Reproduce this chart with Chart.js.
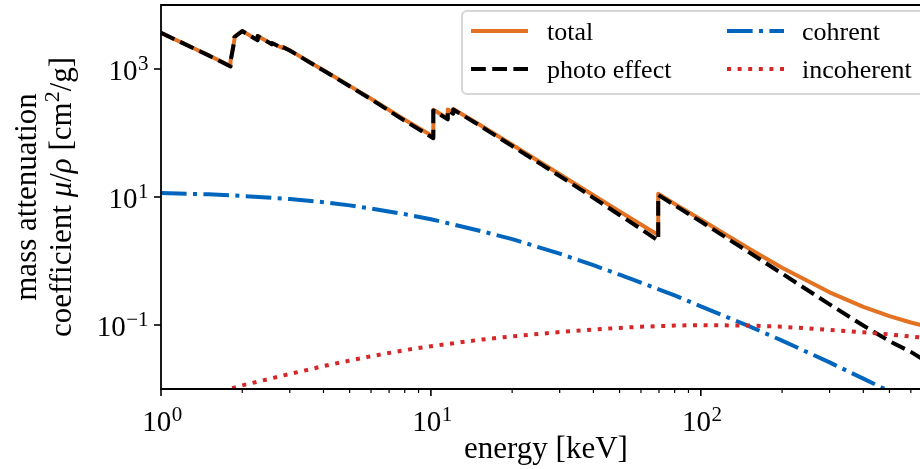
<!DOCTYPE html>
<html>
<head>
<meta charset="utf-8">
<script src="https://cdn.jsdelivr.net/npm/chart.js@4/dist/chart.umd.min.js"></script>
<style>
    html, body { margin: 0; padding: 0; overflow: hidden; background: #fff; }
    #wrap { width: 940px; height: 469px; position: relative; }
</style>
</head>
<body>
<div id="wrap"><canvas id="attChart"></canvas></div>
<script>
// Tungsten mass attenuation (keV, cm^2/g)
// edge energies appear twice: value below and above the edge
const edgeEnergies = [1.0, 1.5, 1.8092, 1.8092, 1.84, 1.8716, 1.8716, 2.0, 2.281, 2.281, 2.4235, 2.5749, 2.5749, 2.8196, 2.8196,
    3.0, 4.0, 5.0, 6.0, 8.0, 10.0, 10.207, 10.207, 10.88, 11.544, 11.544, 11.82, 12.1, 12.1,
    15, 20, 30, 40, 50, 60, 69.525, 69.525, 80, 100, 150, 200, 300, 400, 500, 600, 800];
const totalValues = [3683, 1643, 1108, 1327, 1911, 2901, 3170, 3922, 2828, 3279, 2833, 2445, 2554, 2132, 2216,
    1956, 956, 545, 344, 161, 92.6, 87.9, 230.3, 196, 168.4, 232.5, 218.5, 204.7, 237.3,
    138.5, 65.7, 22.7, 10.67, 5.95, 3.71, 2.55, 11.23, 7.81, 4.44, 1.58, 0.784, 0.324, 0.1925, 0.1378, 0.1093, 0.0807];
const photoValues = [3672, 1632, 1097, 1316, 1900, 2890, 3160, 3912, 2818, 3269, 2823, 2435, 2544, 2123, 2207,
    1946, 947, 537, 337, 155, 87.5, 82.9, 225.3, 191, 163.5, 227.6, 213.7, 200, 232.6,
    134.4, 62.5, 21.3, 9.71, 5.24, 3.16, 2.08, 10.76, 7.42, 4.14, 1.39, 0.636, 0.21, 0.098, 0.056, 0.038, 0.018];

const smoothEnergies = [1, 1.5, 2, 3, 4, 5, 6, 8, 10, 15, 20, 30, 40, 50, 60, 80, 100, 150, 200, 300, 400, 500, 600, 800];
const coherentValues = [11.5, 11.0, 10.4, 9.3, 8.3, 7.4, 6.6, 5.4, 4.5, 3.0, 2.2, 1.3, 0.86, 0.61, 0.46, 0.29, 0.195,
    0.097, 0.057, 0.026, 0.0145, 0.0092, 0.0065, 0.0037];
const incoherentValues = [0.0048, 0.0082, 0.0114, 0.0172, 0.0228, 0.0278, 0.0325, 0.0405, 0.0465, 0.0585, 0.0665, 0.0775, 0.085,
    0.090, 0.094, 0.098, 0.0995, 0.098, 0.094, 0.084, 0.077, 0.071, 0.066, 0.059];

const seriesLabels = ['total', 'photo effect', 'cohrent', 'incoherent'];
const xMajorTicks = [1, 10, 100];
const xTickExponents = ['0', '1', '2'];
const yMajorTicks = [0.1, 10, 1000];
const yTickExponents = ['\u22121', '1', '3'];

const fontSize = 29;
const labelSize = 31;
const legendSize = 26;
const serif = '"Liberation Serif", "DejaVu Serif", serif';

const toPoints = (xs, ys) => xs.map((x, i) => ({ x: x, y: ys[i] }));

const styles = [
    { color: '#E37222', dash: [] },
    { color: '#000000', dash: [14.8, 6.4] },
    { color: '#0065BD', dash: [25.6, 6.4, 4, 6.4] },
    { color: '#D62728', dash: [4, 6.6] }
];

// draws "10" with a raised exponent
function drawPower(ctx, exp, x, y, align) {
    ctx.font = fontSize + 'px ' + serif;
    const wBase = ctx.measureText('10').width;
    const expFont = Math.round(fontSize * 0.74) + 'px ' + serif;
    ctx.font = expFont;
    const wExp = ctx.measureText(exp).width;
    let x0 = x;
    if (align === 'right') x0 = x - wBase - wExp;
    if (align === 'center') x0 = x - (wBase + wExp) / 2;
    ctx.textAlign = 'left';
    ctx.textBaseline = 'alphabetic';
    ctx.font = fontSize + 'px ' + serif;
    ctx.fillText('10', x0, y);
    ctx.font = expFont;
    ctx.fillText(exp, x0 + wBase + 0.5, y - 10);
}

// text pieces drawn one after another, centred on x
function drawRuns(ctx, runs, x, y) {
    let total = 0;
    runs.forEach(r => { ctx.font = r.font; total += ctx.measureText(r.text).width; });
    let cx = x - total / 2;
    runs.forEach(r => {
        ctx.font = r.font;
        ctx.fillText(r.text, cx, y - (r.rise || 0));
        cx += ctx.measureText(r.text).width;
    });
}

const axesPlugin = {
    id: 'mplAxes',
    afterDatasetsDraw(chart) {
        const ctx = chart.ctx;
        const area = chart.chartArea;
        const xs = chart.scales.x;
        const ys = chart.scales.y;
        ctx.save();
        ctx.fillStyle = '#000';
        ctx.strokeStyle = '#000';

        // spines
        ctx.lineWidth = 1.8;
        ctx.beginPath();
        ctx.moveTo(area.right + 5, area.top);
        ctx.lineTo(area.left, area.top);
        ctx.lineTo(area.left, area.bottom);
        ctx.lineTo(area.right + 5, area.bottom);
        ctx.stroke();

        // x ticks, major and minor
        for (let dec = 1; dec <= 100; dec *= 10) {
            for (let m = 1; m <= 9; m++) {
                const v = m * dec;
                if (v > xs.max) break;
                const px = xs.getPixelForValue(v);
                ctx.lineWidth = m === 1 ? 1.6 : 1.2;
                ctx.beginPath();
                ctx.moveTo(px, area.bottom);
                ctx.lineTo(px, area.bottom + (m === 1 ? 7 : 4));
                ctx.stroke();
            }
        }
        xMajorTicks.forEach((v, i) => {
            drawPower(ctx, xTickExponents[i], xs.getPixelForValue(v) + 1, area.bottom + 42, 'center');
        });

        // y ticks
        yMajorTicks.forEach((v, i) => {
            const py = ys.getPixelForValue(v);
            ctx.lineWidth = 1.6;
            ctx.beginPath();
            ctx.moveTo(area.left, py);
            ctx.lineTo(area.left - 7, py);
            ctx.stroke();
            drawPower(ctx, yTickExponents[i], area.left - 13, py + 11, 'right');
        });

        // x axis title
        ctx.textAlign = 'left';
        ctx.textBaseline = 'alphabetic';
        drawRuns(ctx, [{ text: 'energy [keV]', font: labelSize + 'px ' + serif }], (area.left + area.right) / 2 - 3, area.bottom + 69);

        // y axis title, two lines
        const midY = (area.top + area.bottom) / 2;
        const up = labelSize + 'px ' + serif;
        const it = 'italic ' + labelSize + 'px ' + serif;
        const sup = Math.round(labelSize * 0.72) + 'px ' + serif;
        ctx.save();
        ctx.translate(36, midY);
        ctx.rotate(-Math.PI / 2);
        drawRuns(ctx, [{ text: 'mass attenuation', font: up }], 0, 0);
        ctx.restore();
        ctx.save();
        ctx.translate(71, midY);
        ctx.rotate(-Math.PI / 2);
        drawRuns(ctx, [
            { text: 'coefficient ', font: up },
            { text: '\u03BC', font: it },
            { text: '/', font: up },
            { text: '\u03C1 ', font: it },
            { text: '[cm', font: up },
            { text: '2', font: sup, rise: 12 },
            { text: '/g]', font: up }
        ], 0, 0);
        ctx.restore();

        // legend
        ctx.beginPath();
        ctx.roundRect(462, 11, 480, 83, 5);
        ctx.fillStyle = 'rgba(255,255,255,0.8)';
        ctx.fill();
        ctx.lineWidth = 2;
        ctx.strokeStyle = 'rgba(204,204,204,0.8)';
        ctx.stroke();
        const handleX = [471, 727];
        const textX = [547, 802];
        const rowY = [31, 69];
        seriesLabels.forEach((label, i) => {
            const col = Math.floor(i / 2);
            const row = i % 2;
            const ds = chart.data.datasets[i];
            ctx.strokeStyle = ds.borderColor;
            ctx.lineWidth = ds.borderWidth;
            ctx.setLineDash(ds.borderDash);
            ctx.lineCap = 'butt';
            ctx.beginPath();
            ctx.moveTo(handleX[col], rowY[row]);
            ctx.lineTo(handleX[col] + 57, rowY[row]);
            ctx.stroke();
            ctx.setLineDash([]);
            ctx.fillStyle = '#000';
            ctx.font = legendSize + 'px ' + serif;
            ctx.textAlign = 'left';
            ctx.fillText(label, textX[col], rowY[row] + 9);
        });
        ctx.restore();
    }
};

const datasetValues = [
    toPoints(edgeEnergies, totalValues),
    toPoints(edgeEnergies, photoValues),
    toPoints(smoothEnergies, coherentValues),
    toPoints(smoothEnergies, incoherentValues)
];

new Chart(document.getElementById('attChart'), {
    type: 'line',
    data: {
        datasets: seriesLabels.map((label, i) => ({
            label: label,
            data: datasetValues[i],
            borderColor: styles[i].color,
            borderDash: styles[i].dash,
            borderWidth: 4,
            borderCapStyle: 'butt',
            borderJoinStyle: 'round',
            pointRadius: 0,
            tension: 0,
            fill: false,
            order: i === 0 ? 5 : 4 - i
        }))
    },
    options: {
        responsive: true,
        maintainAspectRatio: false,
        animation: false,
        layout: { padding: { left: 161, top: 5, right: 3, bottom: 80 } },
        plugins: {
            legend: { display: false },
            tooltip: { enabled: false }
        },
        scales: {
            x: { type: 'logarithmic', min: 1, max: 750, display: false },
            y: { type: 'logarithmic', min: 0.01, max: 10000, display: false }
        }
    },
    plugins: [axesPlugin]
});
</script>
</body>
</html>
